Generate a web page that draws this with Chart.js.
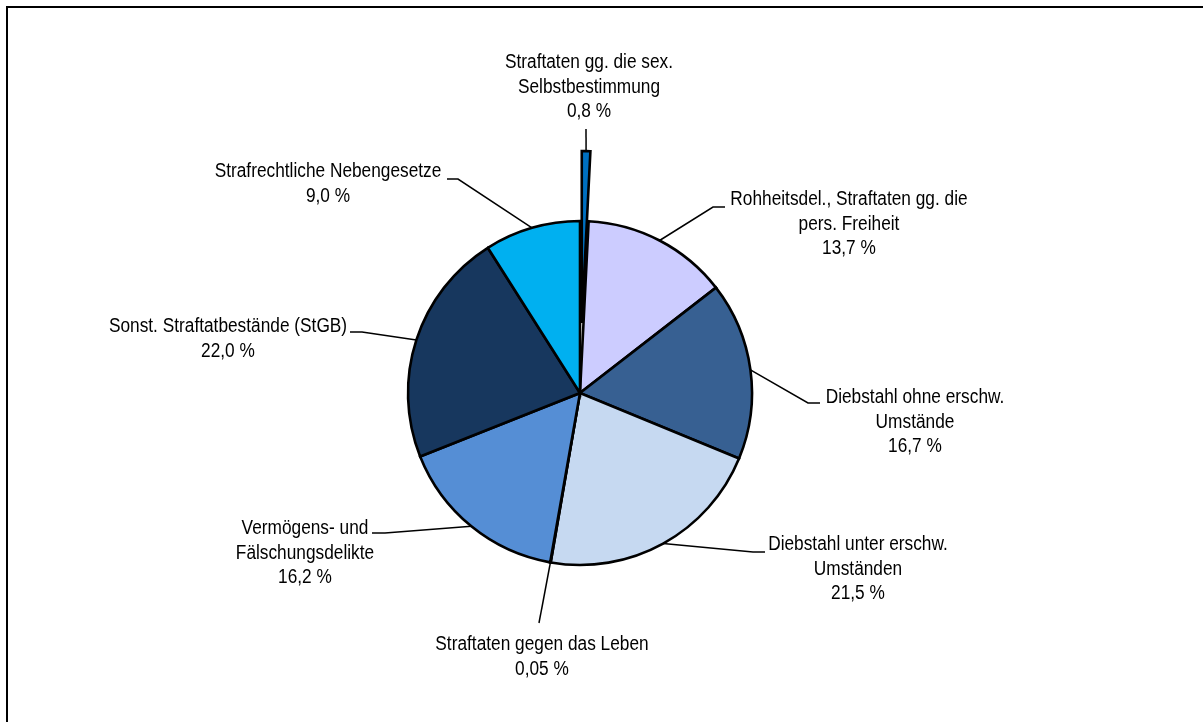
<!DOCTYPE html>
<html lang="de">
<head>
<meta charset="utf-8">
<title>Straftaten nach Deliktsgruppen</title>
<script src="https://cdn.jsdelivr.net/npm/chart.js@4.4.1/dist/chart.umd.min.js"></script>
<style>
  html, body { margin: 0; padding: 0; background: #fff; }
  #wrap { position: relative; width: 1203px; height: 722px; overflow: hidden; }
  #frame { position: absolute; left: 6px; top: 6px; right: -10px; bottom: -10px;
           border-top: 2px solid #000; border-left: 2px solid #000; }
  canvas { position: absolute; left: 0; top: 0; }
</style>
</head>
<body>
<div id="wrap">
  <div id="frame"></div>
  <canvas id="pie" width="1203" height="722"></canvas>
</div>
<script>
(() => {
  'use strict'

  // Data (clockwise from 12 o'clock)
  const categories = [
    ['Straftaten gg. die sex.', 'Selbstbestimmung'],
    ['Rohheitsdel., Straftaten gg. die', 'pers. Freiheit'],
    ['Diebstahl ohne erschw.', 'Umstände'],
    ['Diebstahl unter erschw.', 'Umständen'],
    ['Straftaten gegen das Leben'],
    ['Vermögens- und', 'Fälschungsdelikte'],
    ['Sonst. Straftatbestände (StGB)'],
    ['Strafrechtliche Nebengesetze']
  ]
  const shares = [0.8, 13.7, 16.7, 21.5, 0.05, 16.2, 22.0, 9.0]
  const colors = ['#0070C0', '#CCCCFF', '#376092', '#C6D9F1', '#FFFFFF', '#558ED5', '#17375E', '#00B0F0']

  // slice pulled out of the pie
  const explodeIndex = 0
  const explodeDist = 70

  // label layout: centre of first text line + bends of the leader line
  const labelPos = [
    { x: 589, y: 63, path: [[586, 129]] },
    { x: 849, y: 200, path: [[713, 207], [725, 207]] },
    { x: 915, y: 398, path: [[808, 403], [820, 403]] },
    { x: 858, y: 545, path: [[753, 552], [765, 552]] },
    { x: 542, y: 645, path: [[539, 623]] },
    { x: 305, y: 529, path: [[385, 533], [372, 533]] },
    { x: 228, y: 327, path: [[362, 332], [350, 332]] },
    { x: 328, y: 172, path: [[458, 179], [447, 179]] }
  ]
  const lineHeight = 24.5
  const fontPx = 19.5
  const font = fontPx + 'px "Liberation Sans Narrow", "Liberation Sans", Arial, sans-serif'

  const fmt = v => v.toFixed(v < 0.1 ? 2 : 1).replace('.', ',') + ' %'

  const explodePlugin = {
    id: 'explode',
    beforeDatasetDraw(chart) {
      const arc = chart.getDatasetMeta(0).data[explodeIndex]
      arc.draw = () => {}
    },
    afterDatasetDraw(chart) {
      const arc = chart.getDatasetMeta(0).data[explodeIndex]
      const mid = (arc.startAngle + arc.endAngle) / 2
      const ctx = chart.ctx
      ctx.save()
      ctx.translate(Math.cos(mid) * explodeDist, Math.sin(mid) * explodeDist)
      Object.getPrototypeOf(arc).draw.call(arc, ctx)
      ctx.restore()
    }
  }

  const labelPlugin = {
    id: 'outLabels',
    afterDraw(chart) {
      const ctx = chart.ctx
      const arcs = chart.getDatasetMeta(0).data

      // width of the original labels ~ Arial 17.3px, glyphs condensed
      ctx.save()
      ctx.font = '17.3px "Liberation Sans", Arial, sans-serif'
      const target = ctx.measureText('Strafrechtliche Nebengesetze').width
      ctx.font = font
      const scaleX = target / ctx.measureText('Strafrechtliche Nebengesetze').width
      ctx.restore()

      arcs.forEach((arc, i) => {
        const pos = labelPos[i]
        const mid = (arc.startAngle + arc.endAngle) / 2
        const r = arc.outerRadius + (i === explodeIndex ? explodeDist : 0)
        const sx = arc.x + Math.cos(mid) * r
        const sy = arc.y + Math.sin(mid) * r

        ctx.save()
        ctx.strokeStyle = '#000'
        ctx.lineWidth = 1.5
        ctx.beginPath()
        ctx.moveTo(sx, sy)
        pos.path.forEach(p => ctx.lineTo(p[0], p[1]))
        ctx.stroke()

        ctx.fillStyle = '#000'
        ctx.font = font
        ctx.textAlign = 'center'
        ctx.textBaseline = 'middle'
        const lines = categories[i].concat([fmt(shares[i])])
        lines.forEach((t, k) => {
          ctx.save()
          ctx.translate(pos.x, pos.y + k * lineHeight)
          ctx.scale(scaleX, 1)
          ctx.fillText(t, 0, 0)
          ctx.restore()
        })
        ctx.restore()
      })
    }
  }

  const ctx = document.getElementById('pie')
  // eslint-disable-next-line no-unused-vars
  const pie = new Chart(ctx, {
    type: 'pie',
    data: {
      labels: categories,
      datasets: [{
        data: shares,
        backgroundColor: colors,
        borderColor: '#000',
        borderWidth: 2.6,
        borderJoinStyle: 'miter'
      }]
    },
    options: {
      responsive: false,
      animation: false,
      events: [],
      radius: 172,
      rotation: 0,
      layout: { padding: { left: 0, right: 43, top: 64, bottom: 0 } },
      plugins: {
        legend: { display: false },
        tooltip: { enabled: false }
      }
    },
    plugins: [explodePlugin, labelPlugin]
  })
})()
</script>
</body>
</html>
